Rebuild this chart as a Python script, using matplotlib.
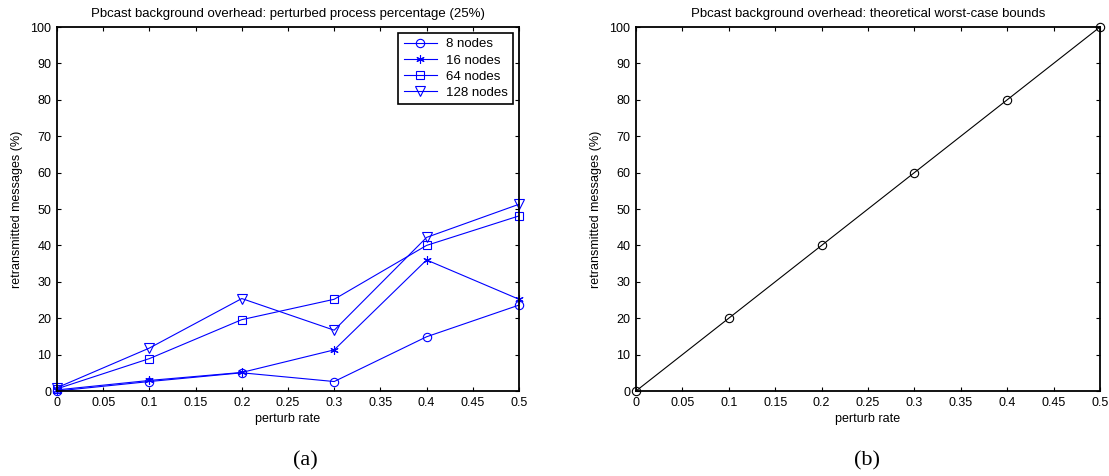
import matplotlib
matplotlib.use("Agg")
import matplotlib.pyplot as plt
import numpy as np

plt.rcParams['font.family'] = ['Liberation Sans', 'DejaVu Sans']
plt.rcParams['font.size'] = 9

# data
perturb_rate = [0, 0.1, 0.2, 0.3, 0.4, 0.5]
nodes_8 = [0, 2.6, 5.0, 2.6, 14.9, 23.6]
nodes_16 = [0.3, 2.9, 5.1, 11.3, 36.0, 25.2]
nodes_64 = [0.6, 8.9, 19.6, 25.2, 40.0, 48.1]
nodes_128 = [0.9, 11.8, 25.4, 16.7, 42.2, 51.3]
worst_case = [0, 20, 40, 60, 80, 100]

# (values, marker, size, label)
series = [
    (nodes_8, "o", 6, "8 nodes"),
    (nodes_16, (6, 2, 0), 6, "16 nodes"),
    (nodes_64, "s", 6, "64 nodes"),
    (nodes_128, "v", 7, "128 nodes"),
]

fig = plt.figure(figsize=(11.09, 4.76), dpi=100)
ax1 = fig.add_axes([57 / 1109, 85 / 476, 462 / 1109, 364 / 476])
ax2 = fig.add_axes([636 / 1109, 85 / 476, 464 / 1109, 364 / 476])


def matlab_style(ax, title):
    ax.set_xlim(0, 0.5)
    ax.set_ylim(0, 100)
    ax.set_xticks(np.arange(0, 0.51, 0.05))
    ax.set_xticklabels(["0", "0.05", "0.1", "0.15", "0.2", "0.25", "0.3",
                        "0.35", "0.4", "0.45", "0.5"])
    ax.set_yticks(np.arange(0, 101, 10))
    ax.tick_params(direction="in", top=True, right=True, length=3, width=0.8,
                   labelsize=9, pad=4)
    for s in ax.spines.values():
        s.set_linewidth(1.3)
    ax.set_title(title, fontsize=9.5, pad=7)
    ax.set_xlabel("perturb rate", fontsize=9, labelpad=3)
    ax.set_ylabel("retransmitted messages (%)", fontsize=9, labelpad=5)


for vals, mk, ms, lab in series:
    ax1.plot(perturb_rate, vals, color="blue", marker=mk, markersize=ms,
             markerfacecolor="none", markeredgecolor="blue", markeredgewidth=0.8,
             linewidth=0.8, label=lab, clip_on=False)
matlab_style(ax1, "Pbcast background overhead: perturbed process percentage (25%)")
leg = ax1.legend(loc="upper right", fontsize=9.5, fancybox=False, framealpha=1,
                 edgecolor="black", handlelength=2.5, handletextpad=0.7,
                 borderpad=0.4, labelspacing=0.3, borderaxespad=0.45)
leg.get_frame().set_linewidth(1.2)

ax2.plot(perturb_rate, worst_case, color="black", marker="o", markersize=6,
         markerfacecolor="none", markeredgewidth=0.8, linewidth=0.8, clip_on=False)
matlab_style(ax2, "Pbcast background overhead: theoretical worst-case bounds")

fig.text(305 / 1109, 1 - 461 / 476, "(a)", family="Liberation Serif", fontsize=16,
         ha="center", va="center")
fig.text(867 / 1109, 1 - 461 / 476, "(b)", family="Liberation Serif", fontsize=16,
         ha="center", va="center")

fig.savefig("out.png", dpi=100)
